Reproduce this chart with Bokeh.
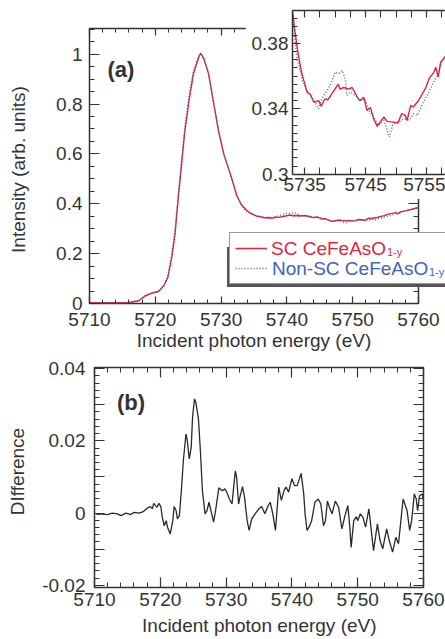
import math
from bokeh.plotting import figure
from bokeh.models import (Range1d, LinearAxis, FixedTicker, SingleIntervalTicker,
                          CustomJSTickFormatter, Legend, LegendItem, Label, GridBox)
from bokeh.embed import file_html
from bokeh.resources import INLINE

# ---------------- data ----------------
energy_sc = [5710, 5712, 5714, 5716, 5717.5, 5718.5, 5719.5, 5720.5, 5721.3, 5721.9,
             5722.5, 5723.0, 5723.5, 5724.0, 5724.5, 5725.2, 5725.8, 5726.6, 5726.9, 5727.4,
             5728.1, 5728.8, 5729.6, 5730.4, 5731.4, 5732.4,
             5733.0, 5733.3, 5733.9, 5734.5, 5735.4, 5735.9, 5736.5, 5737.3, 5737.7, 5738.3,
             5738.8, 5739.6, 5740.5, 5740.8, 5741.4, 5742.2, 5742.8, 5743.8, 5744.1, 5744.7,
             5745.2, 5745.8, 5746.3, 5746.9, 5747.4, 5748.0, 5748.5, 5749.3, 5750.3, 5750.9,
             5751.5, 5751.8, 5752.4, 5752.8, 5753.7, 5754.3, 5754.8, 5755.4, 5756.2, 5756.5,
             5756.9, 5757.3, 5758.0, 5759.0, 5760.0]
intensity_sc = [0.003, 0.003, 0.003, 0.004, 0.011, 0.031, 0.042, 0.048, 0.071, 0.104,
                0.185, 0.279, 0.426, 0.560, 0.694, 0.827, 0.921, 0.988, 1.004, 0.981,
                0.921, 0.814, 0.694, 0.600, 0.520, 0.432,
                0.400, 0.390, 0.374, 0.362, 0.350, 0.349, 0.344, 0.345, 0.3415, 0.346,
                0.3455, 0.350, 0.355, 0.352, 0.353, 0.352, 0.353, 0.346, 0.345, 0.347,
                0.339, 0.3407, 0.334, 0.3293, 0.332, 0.335, 0.3323, 0.332, 0.3313, 0.337,
                0.336, 0.3329, 0.3421, 0.3411, 0.3451, 0.3492, 0.3523, 0.3584, 0.3624, 0.3654,
                0.3593, 0.3685, 0.3716, 0.378, 0.385]

energy_nsc = [5710, 5712, 5714, 5716, 5717.5, 5718.5, 5719.5, 5720.5, 5721.3, 5721.9,
              5722.5, 5723.0, 5723.5, 5724.0, 5724.5, 5725.2, 5725.8, 5726.6, 5726.9, 5727.4,
              5728.1, 5728.8, 5729.6, 5730.4, 5731.4, 5732.4,
              5733.0, 5733.7, 5734.5, 5735.3, 5736.2, 5737.3, 5737.8, 5738.7, 5739.4, 5740.0,
              5740.6, 5741.2, 5741.7, 5741.9, 5742.5, 5743.3, 5744.1, 5744.9, 5745.5, 5746.3,
              5747.1, 5748.0, 5748.9, 5749.5, 5750.4, 5751.3, 5752.1, 5752.9, 5753.5, 5754.3,
              5755.1, 5755.9, 5756.8, 5757.6, 5758.2, 5759.0, 5760.0]
intensity_nsc = [0.003, 0.003, 0.003, 0.004, 0.012, 0.033, 0.043, 0.049, 0.074, 0.110,
                 0.197, 0.295, 0.445, 0.580, 0.712, 0.845, 0.935, 0.992, 1.000, 0.979,
                 0.920, 0.813, 0.694, 0.600, 0.520, 0.432,
                 0.398, 0.3716, 0.3593, 0.3512, 0.3471, 0.3400, 0.3462, 0.3512, 0.3563, 0.3624,
                 0.3614, 0.3634, 0.3573, 0.3482, 0.3502, 0.3482, 0.3451, 0.3462, 0.339, 0.3353,
                 0.3299, 0.3329, 0.3227, 0.3309, 0.332, 0.334, 0.3329, 0.337, 0.336, 0.3431,
                 0.3482, 0.3543, 0.3604, 0.3695, 0.3722, 0.377, 0.384]

energy_diff = [5710.3, 5711.0, 5712.0, 5712.7, 5713.5, 5714.0, 5714.8, 5715.5, 5716.0, 5716.8,
               5717.4, 5718.1, 5718.5, 5718.8, 5719.0, 5719.5, 5719.8, 5720.1, 5720.3, 5720.6,
               5720.9, 5721.1, 5721.5, 5721.9, 5722.1, 5722.4, 5722.6, 5722.9, 5723.2, 5723.5,
               5723.9, 5724.1, 5724.4, 5724.7, 5724.9, 5725.2, 5725.4, 5725.8, 5726.1, 5726.4,
               5726.8, 5727.1, 5727.4, 5727.7, 5728.1, 5728.4, 5728.9, 5729.4, 5729.8, 5730.1,
               5730.5, 5730.9, 5731.1, 5731.4, 5731.6, 5731.9, 5732.1, 5732.5, 5732.8, 5733.2,
               5733.5, 5733.9, 5734.4, 5735.0, 5735.4, 5735.9, 5736.4, 5736.7, 5737.1, 5737.5,
               5737.7, 5738.0, 5738.4, 5738.8, 5739.1, 5739.5, 5740.0, 5740.4, 5740.8, 5741.4,
               5741.8, 5742.0, 5742.3, 5742.6, 5743.0, 5743.5, 5744.0, 5744.4, 5744.8, 5745.1,
               5745.4, 5745.7, 5746.1, 5746.6, 5747.1, 5747.6, 5748.0, 5748.5, 5748.8, 5749.0,
               5749.4, 5749.8, 5750.0, 5750.4, 5750.8, 5751.2, 5751.7, 5751.9, 5752.4, 5753.0,
               5753.4, 5753.8, 5754.4, 5754.8, 5755.3, 5755.8, 5756.2, 5756.9, 5757.5, 5757.9,
               5758.2, 5758.6, 5758.9, 5759.1, 5759.4, 5759.8, 5760.0]
difference = [-0.0004, -0.0002, -0.0004, 0.0, -0.0002, -0.0007, 0.0, -0.0004, 0.0002, 0.0,
              0.0004, 0.0015, 0.0018, 0.0012, 0.0027, 0.0016, 0.0027, 0.0016, -0.0012, -0.0035,
              -0.0021, -0.0039, -0.0058, -0.0021, 0.0018, 0.0007, -0.0016, -0.0007, 0.0062, 0.0145,
              0.0219, 0.0201, 0.0150, 0.0182, 0.0265, 0.0316, 0.0307, 0.0260, 0.0170, 0.0062,
              -0.0002, 0.0007, 0.0030, 0.0007, -0.0025, 0.0007, 0.0070, 0.0062, 0.0067, 0.0058,
              0.0039, 0.0025, 0.0062, 0.0117, 0.0099, 0.0025, 0.0044, 0.0073, 0.0044, -0.0021,
              -0.0048, -0.0016, -0.0002, 0.0012, 0.0018, -0.0002, 0.0021, 0.0030, -0.0002, -0.0048,
              -0.0002, 0.0072, 0.0035, 0.0062, 0.0072, 0.0058, 0.0095, 0.0076, 0.0076, 0.0110,
              0.0053, -0.0002, -0.0048, -0.0039, -0.0021, 0.0030, 0.0039, 0.0025, -0.0035, -0.0021,
              0.0033, 0.0016, -0.0002, 0.0033, 0.0016, -0.0044, -0.0012, 0.0021, -0.0039, -0.0095,
              -0.0021, -0.0010, -0.0021, -0.0002, -0.0012, -0.0039, 0.0012, -0.0021, -0.0104, -0.0030,
              -0.0076, -0.0099, -0.0044, -0.0076, -0.0108, -0.0067, -0.0085, 0.0039, 0.0007, -0.0048,
              -0.0021, 0.0053, 0.0039, 0.0007, 0.0048, 0.0053, 0.0035]

inset_x_ticks = [5735, 5745, 5755]
inset_x_minor = [5732.5, 5737.5, 5740, 5742.5, 5747.5, 5750, 5752.5, 5757.5]
inset_y_ticks = [0.30, 0.34, 0.38]
inset_y_minor = [0.305, 0.31, 0.315, 0.32, 0.325, 0.33, 0.335, 0.345, 0.35, 0.355,
                 0.36, 0.365, 0.37, 0.375, 0.385, 0.39, 0.395, 0.40]

legend_sc = "SC CeFeAsO"
legend_nsc = "Non-SC CeFeAsO"
legend_sub = "1-y"
x_title = "Incident photon energy (eV)"
y_title_a = "Intensity (arb. units)"
y_title_b = "DIfference"

# ---------------- styling ----------------
RED = "#e4233d"
BLUE = "#3f63b8"
INK = "#333333"
FONT = "Liberation Sans"
FS = "19px"

fmt_plain = CustomJSTickFormatter(code="return Number(tick.toFixed(3)).toString();")
fmt_none = CustomJSTickFormatter(code="return '';")


def style_axis(ax, major, minor, labels=True, line=False):
    ax.axis_line_color = INK if line else None
    ax.axis_line_width = 1.5
    ax.major_tick_line_color = INK
    ax.minor_tick_line_color = INK
    ax.major_tick_line_width = 1.2
    ax.minor_tick_line_width = 1.0
    ax.major_tick_in = major
    ax.major_tick_out = 0
    ax.minor_tick_in = minor
    ax.minor_tick_out = 0
    ax.major_label_text_font = FONT
    ax.major_label_text_color = INK
    if labels:
        ax.major_label_text_font_size = FS
    else:
        ax.major_label_text_font_size = "1px"
        ax.major_label_standoff = 0
        ax.axis_label_standoff = 0
        ax.formatter = fmt_none


def base_fig(w, h, xr, yr, bl, br, bt, bb):
    f = figure(width=w, height=h, x_range=xr, y_range=yr, output_backend="svg",
               toolbar_location=None, min_border_left=bl, min_border_right=br,
               min_border_top=bt, min_border_bottom=bb, frame_align=False)
    f.xgrid.visible = False
    f.ygrid.visible = False
    f.background_fill_color = "white"
    f.border_fill_color = "white"
    return f


lab_kw = dict(x_units="screen", y_units="screen", text_font=FONT)

# ---------------- panel (a) ----------------
p_top = base_fig(445, 352, Range1d(5710, 5760), Range1d(0, 1.103), 89, 27, 28, 49)
p_top.outline_line_color = INK
p_top.outline_line_width = 1.5
xt_a = SingleIntervalTicker(interval=10, num_minor_ticks=5)
yt_a = SingleIntervalTicker(interval=0.2, num_minor_ticks=4)
p_top.xaxis.ticker = xt_a
p_top.yaxis.ticker = yt_a
p_top.yaxis.formatter = fmt_plain
style_axis(p_top.xaxis[0], 7, 4)
style_axis(p_top.yaxis[0], 10, 5)
p_top.xaxis.major_label_standoff = 9
p_top.yaxis.major_label_standoff = 7
ax_top = LinearAxis(ticker=xt_a)
style_axis(ax_top, 7, 4, labels=False)
p_top.add_layout(ax_top, "above")
ax_right = LinearAxis(ticker=yt_a)
style_axis(ax_right, 10, 5, labels=False)
p_top.add_layout(ax_right, "right")
p_top.line(energy_sc, intensity_sc, line_color=RED, line_width=1.4)
p_top.line(energy_nsc, intensity_nsc, line_color=BLUE, line_width=1.4, line_dash="1 2")
p_top.add_layout(Label(x=18, y=234.5, text="(a)", text_color=INK, text_font_size="22px",
                       text_font_style="bold", text_baseline="middle", **lab_kw))

# ---------------- inset ----------------
inset = base_fig(200, 199, Range1d(5733.0, 5758.1), Range1d(0.2999, 0.4), 47, 0, 10, 25)
inset.outline_line_color = None
xt_i = FixedTicker(ticks=inset_x_ticks, minor_ticks=inset_x_minor)
yt_i = FixedTicker(ticks=inset_y_ticks, minor_ticks=inset_y_minor)
inset.xaxis.ticker = xt_i
inset.yaxis.ticker = yt_i
inset.yaxis.formatter = fmt_plain
style_axis(inset.xaxis[0], 7, 7, line=True)
style_axis(inset.yaxis[0], 8, 5, line=True)
inset.xaxis.major_label_standoff = 3
inset.yaxis.major_label_standoff = 4
ax_it = LinearAxis(ticker=xt_i)
style_axis(ax_it, 7, 7, labels=False, line=True)
inset.add_layout(ax_it, "above")
inset.line(energy_sc, intensity_sc, line_color=RED, line_width=1.4)
inset.line(energy_nsc, intensity_nsc, line_color=BLUE, line_width=1.4, line_dash="1 2")

# ---------------- panel (b) ----------------
p_bot = base_fig(445, 287, Range1d(5710, 5760), Range1d(-0.0206, 0.0403), 94, 22, 15, 52)
p_bot.outline_line_color = INK
p_bot.outline_line_width = 1.5
xt_b = SingleIntervalTicker(interval=10, num_minor_ticks=5)
yt_b = SingleIntervalTicker(interval=0.01, num_minor_ticks=5)
p_bot.xaxis.ticker = xt_b
p_bot.yaxis.ticker = yt_b
p_bot.yaxis.formatter = CustomJSTickFormatter(code="""
const v = Math.round(tick * 100);
if (v % 2 != 0) { return ''; }
if (v == 0) { return '0'; }
return (v / 100).toFixed(2);
""")
style_axis(p_bot.xaxis[0], 10, 5)
style_axis(p_bot.yaxis[0], 10, 5)
p_bot.xaxis.major_label_standoff = 5
p_bot.yaxis.major_label_standoff = 9
ax_bt = LinearAxis(ticker=xt_b)
style_axis(ax_bt, 10, 5, labels=False)
p_bot.add_layout(ax_bt, "above")
ax_br = LinearAxis(ticker=yt_b)
style_axis(ax_br, 10, 5, labels=False)
p_bot.add_layout(ax_br, "right")
p_bot.line(energy_diff, difference, line_color="#2a2a2a", line_width=1.3)
p_bot.add_layout(Label(x=22.5, y=185, text="(b)", text_color=INK, text_font_size="22px",
                       text_font_style="bold", text_baseline="middle", **lab_kw))

# ---------------- transparent overlay: axis titles and the legend ----------------
ov = figure(width=445, height=639, x_range=Range1d(0, 1), y_range=Range1d(0, 1),
            output_backend="svg", toolbar_location=None, min_border=0,
            x_axis_location=None, y_axis_location=None, frame_align=False)
ov.background_fill_color = None
ov.border_fill_color = None
ov.outline_line_color = None
ov.xgrid.visible = False
ov.ygrid.visible = False
# legend glyph sources (same series; they fall outside this overlay's unit ranges)
o_sc = ov.line(energy_sc, intensity_sc, line_color=RED, line_width=1.4)
o_nsc = ov.line(energy_nsc, intensity_nsc, line_color=BLUE, line_width=1.4, line_dash="1 2")
o_blank = ov.line([], [], line_alpha=0)

leg_kw = dict(glyph_width=32, glyph_height=20, label_height=20, label_width=200,
              spacing=0, padding=5, margin=0, label_standoff=5,
              label_text_font_size="10px", background_fill_alpha=1.0)
ov.add_layout(Legend(items=[LegendItem(label=" ", renderers=[o_sc]),
                            LegendItem(label=" ", renderers=[o_nsc])],
                     location=(226.6, 352.4), border_line_color=None,
                     background_fill_color="#555555", **leg_kw))
ov.add_layout(Legend(items=[LegendItem(label=" ", renderers=[o_sc]),
                            LegendItem(label=" ", renderers=[o_nsc])],
                     location=(229, 355), border_line_color=INK, border_line_width=1,
                     background_fill_color="white", **leg_kw))


def text_legend(label, color, size, x, y, h):
    return Legend(items=[LegendItem(label=label, renderers=[o_blank])],
                  location=(x, y), glyph_width=0, glyph_height=h, label_height=h,
                  label_width=1, label_standoff=0, padding=0, margin=0, spacing=0,
                  border_line_color=None, background_fill_alpha=0,
                  label_text_color=color, label_text_font=FONT, label_text_font_size=size)


ov.add_layout(text_legend(legend_sc, RED, "19px", 271, 379, 22))
ov.add_layout(text_legend(legend_sub, RED, "11px", 387, 381.5, 12))
ov.add_layout(text_legend(legend_nsc, BLUE, "19px", 272, 359, 22))
ov.add_layout(text_legend(legend_sub, BLUE, "11px", 429, 361, 12))

t_kw = dict(text_color=INK, text_font_size=FS, text_align="center", text_baseline="middle",
            **lab_kw)
ov.add_layout(Label(x=253.5, y=299, text=x_title, **t_kw))
ov.add_layout(Label(x=18.3, y=470, text=y_title_a, angle=math.pi / 2, **t_kw))
ov.add_layout(Label(x=258.8, y=14, text=x_title, **t_kw))
ov.add_layout(Label(x=16.7, y=168, text=y_title_b, angle=math.pi / 2, **t_kw))

layout = GridBox(children=[(p_top, 0, 0, 2, 2), (p_bot, 2, 0, 1, 2), (inset, 0, 1, 1, 1),
                           (ov, 0, 0, 3, 2)],
                 rows=["199px", "153px", "287px"], cols=["245px", "200px"], spacing=0)
open("out.html", "w").write(file_html(layout, INLINE))
